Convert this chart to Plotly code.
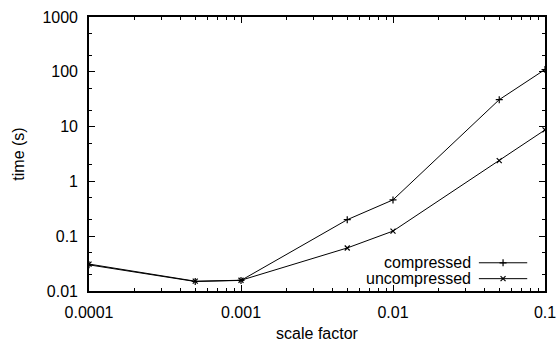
import plotly.graph_objects as go

# Benchmark timings (seconds) per scale factor
scale_factor = [0.0001, 0.0005, 0.001, 0.005, 0.01, 0.05, 0.1]
compressed = [0.030, 0.0149, 0.0156, 0.20, 0.46, 31.0, 110.0]
uncompressed = [0.031, 0.0151, 0.0157, 0.061, 0.124, 2.4, 8.7]
series_names = ["compressed", "uncompressed"]
series_symbols = ["cross-thin", "x-thin"]

x_tick_vals = [0.0001, 0.001, 0.01, 0.1]
x_tick_labels = ["0.0001", "0.001", "0.01", "0.1"]
y_tick_vals = [0.01, 0.1, 1, 10, 100, 1000]
y_tick_labels = ["0.01", "0.1", "1", "10", "100", "1000"]

FONT = "Liberation Sans, Arial, Helvetica, sans-serif"
FS = 16
MSIZE = 5

fig = go.Figure()
for name, ys, sym in zip(series_names, [compressed, uncompressed], series_symbols):
    fig.add_trace(go.Scatter(
        x=scale_factor, y=ys, name=name, mode="lines+markers",
        line=dict(color="black", width=1),
        marker=dict(symbol=sym, size=MSIZE, color="black",
                    line=dict(color="black", width=1.2)),
        showlegend=False,
    ))

# Key drawn gnuplot-style: label on the left, sample on the right
key_rows = [0.103, 0.045]
for name, sym, ky in zip(series_names, series_symbols, key_rows):
    fig.add_trace(go.Scatter(
        x=[0.855, 0.961], y=[ky, ky], mode="lines",
        line=dict(color="black", width=1),
        xaxis="x2", yaxis="y2", showlegend=False, hoverinfo="skip",
    ))
    fig.add_trace(go.Scatter(
        x=[0.908], y=[ky], mode="markers",
        marker=dict(symbol=sym, size=MSIZE, color="black",
                    line=dict(color="black", width=1.2)),
        xaxis="x2", yaxis="y2", showlegend=False, hoverinfo="skip",
    ))
    fig.add_annotation(
        text=name, xref="x2", yref="y2", x=0.842, y=ky,
        xanchor="right", yanchor="middle", showarrow=False,
        font=dict(family=FONT, size=FS, color="black"),
    )

axis_common = dict(
    showgrid=False, zeroline=False, showline=True, linecolor="black",
    linewidth=1.6, mirror="ticks", ticks="inside", ticklen=6,
    tickcolor="black", tickwidth=1, automargin=False,
    tickfont=dict(family=FONT, size=FS, color="black"),
)

fig.update_layout(
    width=559, height=345,
    margin=dict(l=89, r=14, t=17, b=54),
    paper_bgcolor="white", plot_bgcolor="white",
    font=dict(family=FONT, size=FS, color="black"),
    xaxis=dict(
        type="log", range=[-4, -1], tickmode="array", domain=[0, 1],
        tickvals=x_tick_vals, ticktext=x_tick_labels,
        title=dict(text="scale factor", font=dict(family=FONT, size=FS), standoff=8),
        minor=dict(ticks="inside", ticklen=3, tickcolor="black",
                   tickvals=[m * 10 ** e for e in range(-4, -1) for m in range(2, 10)]),
        ticklabelstandoff=6,
        **axis_common,
    ),
    yaxis=dict(
        type="log", range=[-2, 3], tickmode="array", domain=[0, 1],
        tickvals=y_tick_vals, ticktext=y_tick_labels,
        title=dict(text="time (s)", font=dict(family=FONT, size=FS), standoff=14),
        minor=dict(ticks="inside", ticklen=3, tickcolor="black",
                   tickvals=[m * 10 ** e for e in range(-2, 3) for m in (2, 5)]),
        ticklabelstandoff=6,
        **axis_common,
    ),
    xaxis2=dict(overlaying="x", range=[0, 1], visible=False, domain=[0, 1]),
    yaxis2=dict(overlaying="y", range=[0, 1], visible=False, domain=[0, 1]),
)

fig.write_html("out.html")
